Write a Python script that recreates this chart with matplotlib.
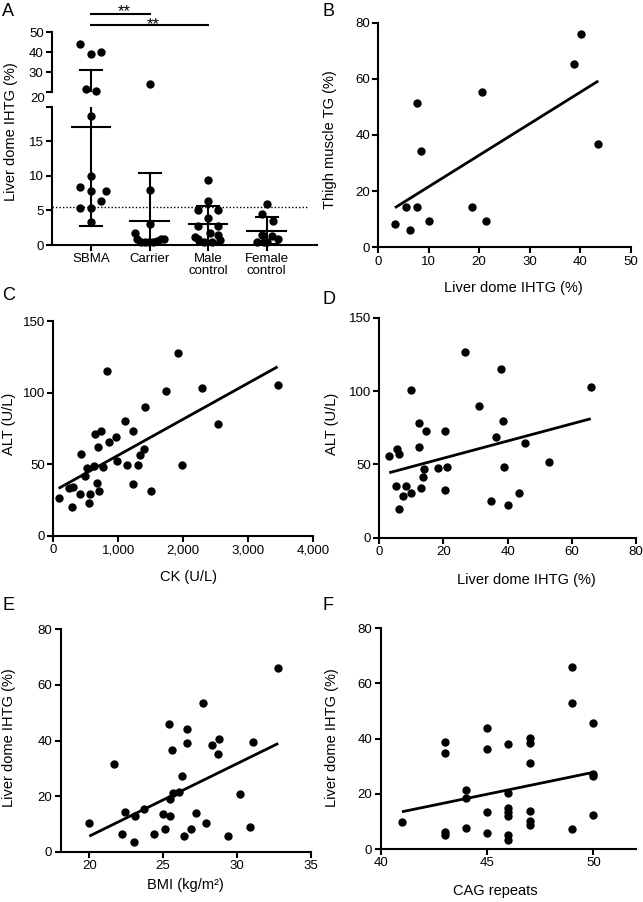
import numpy as np
import matplotlib
matplotlib.use('Agg')
import matplotlib.pyplot as plt
from matplotlib.transforms import blended_transform_factory

plt.rcParams['font.family'] = ['Liberation Sans', 'DejaVu Sans']

W, H = 643, 902

# ---------------- Panel A data ----------------
groups_A = ['SBMA', 'Carrier', 'Male\ncontrol', 'Female\ncontrol']
sbma = [44.0, 39.0, 40.3, 21.5, 20.7, 18.7, 10.0, 8.4, 7.8, 7.8, 6.3, 5.4, 5.3, 3.3]
carrier = [24.2, 7.9, 3.1, 1.7, 0.8, 0.5, 0.4, 0.4, 0.5, 0.6, 0.8, 0.9]
male_ctrl = [9.4, 6.3, 5.1, 5.1, 3.9, 2.7, 2.7, 1.8, 1.4, 0.8, 0.5, 0.5, 0.7, 1.2]
female_ctrl = [5.9, 4.5, 3.4, 1.4, 1.3, 0.9, 0.5, 0.4, 0.5]
threshold_A = 5.5
sig_pairs = [(0, 1, '**'), (0, 2, '**')]
# horizontal jitter of the dots (pixels)
sbma_jit = [-11, 0, 10, -5, 5, 0, 0, -11, 0, 15, 10, -11, 0, 0]
carrier_jit = [0, 0, 0, -15, -13, -9, -5, -1, 3, 7, 11, 14]
male_jit = [0, 0, -10, 10, 0, -10, 10, 2, 10, -10, -4, 4, 12, -13]
female_jit = [0, -5, 6, -5, 5, 11, -10, 0, -3]

# ---------------- Panel B data ----------------
b_ihtg = [3.3, 5.4, 6.3, 7.7, 7.7, 8.4, 10.0, 18.6, 20.5, 21.3, 38.7, 40.1, 43.6]
b_thigh = [8.3, 14.5, 6.2, 51.3, 14.2, 34.4, 9.5, 14.5, 55.4, 9.4, 65.3, 75.8, 36.8]
b_fit = (1.12, 10.4)   # slope, intercept of the drawn regression line

# ---------------- Panel C data ----------------
c_ck = [82, 246, 297, 282, 410, 431, 487, 523, 554, 564, 626, 641, 682, 677, 703,
        733, 769, 821, 862, 959, 974, 1103, 1128, 1221, 1221, 1308, 1333, 1400, 1410,
        1497, 1733, 1923, 1979, 2287, 2538, 3451]
c_alt = [26.1, 33.1, 33.8, 20.3, 29.3, 57.1, 41.9, 47.5, 23.1, 29.3, 48.7, 71.0, 62.2,
         36.6, 31.2, 73.4, 48.2, 115.3, 65.2, 69.2, 52.2, 80.1, 49.4, 73.4, 36.1, 49.4,
         56.4, 60.3, 90.1, 31.4, 101.3, 127.4, 49.4, 103.0, 78.3, 105.3]
c_fit = (0.02522, 31.0)

# ---------------- Panel D data ----------------
d_ihtg = [3.1, 5.4, 6.0, 5.2, 6.1, 7.5, 8.3, 9.9, 9.9, 12.4, 12.5, 13.1, 13.5, 13.9,
          14.7, 18.4, 20.5, 20.4, 21.2, 26.8, 31.2, 34.7, 36.3, 38.0, 38.5, 38.9, 40.1,
          43.6, 45.4, 52.9, 65.9]
d_alt = [55.7, 60.2, 56.8, 35.5, 19.8, 28.4, 35.5, 30.7, 100.7, 78.0, 61.6, 33.6, 41.6,
         46.8, 72.7, 47.7, 72.7, 32.5, 48.4, 126.8, 89.8, 25.2, 68.9, 114.8, 79.5, 48.4,
         22.3, 30.2, 64.8, 51.6, 103.0]
d_fit = (0.586, 42.5)

# ---------------- Panel E data ----------------
e_bmi = [20.0, 21.7, 22.2, 22.4, 23.0, 23.1, 23.7, 24.4, 25.0, 25.1, 25.4, 25.5, 25.5,
         25.6, 25.7, 26.1, 26.3, 26.4, 26.6, 26.6, 26.9, 27.2, 27.7, 27.9, 28.3, 28.7,
         28.8, 29.4, 30.2, 30.9, 31.1, 32.8]
e_ihtg = [10.4, 31.5, 6.4, 14.4, 3.6, 12.8, 15.2, 6.4, 13.5, 8.0, 45.8, 18.8, 12.9,
          36.6, 21.0, 21.6, 27.3, 5.6, 44.0, 39.0, 8.0, 14.0, 53.4, 10.4, 38.4, 35.0,
          40.4, 5.6, 20.7, 8.8, 39.6, 66.2]
e_fit = (2.605, -46.5)

# ---------------- Panel F data ----------------
f_cag = [41, 43, 43, 43, 43, 44, 44, 44, 45, 45, 45, 45, 46, 46, 46, 46, 46, 46, 46,
         47, 47, 47, 47, 47, 47, 49, 49, 49, 50, 50, 50, 50]
f_ihtg = [9.7, 38.9, 34.9, 6.3, 5.2, 21.4, 18.6, 7.5, 43.7, 36.2, 13.5, 5.7, 38.1, 20.4,
          14.9, 13.3, 11.8, 5.1, 3.3, 40.1, 38.5, 31.3, 13.9, 10.2, 8.6, 66.1, 53.1, 7.4,
          45.6, 27.2, 26.5, 12.3]
f_fit = (1.589, -51.65)

TICK_FS = 9.5
LABEL_FS = 10.5
LETTER_FS = 13
SPINE_LW = 1.5
MS = 5.0

fig = plt.figure(figsize=(W / 100, H / 100), dpi=100)


def rect(L, R, T, B):
    return [L / W, 1 - B / H, (R - L) / W, (B - T) / H]


def style(ax, bottom=True):
    for s in ['top', 'right']:
        ax.spines[s].set_visible(False)
    ax.spines['left'].set_linewidth(SPINE_LW)
    ax.spines['bottom'].set_linewidth(SPINE_LW)
    if not bottom:
        ax.spines['bottom'].set_visible(False)
    ax.tick_params(direction='out', length=4, width=SPINE_LW, labelsize=TICK_FS,
                   pad=2, colors='black')
    ax.patch.set_alpha(0)


def ftext(x, y, s, **kw):
    fig.text(x / W, 1 - y / H, s, **kw)


# ---------------- Panel A ----------------
LA, RA = 52, 317
axA = fig.add_axes(rect(LA, RA, 106.7, 245))
axAu = fig.add_axes(rect(LA, RA, 32.3, 92.3), sharex=axA)
xlimA = (-0.67, 3.86)
axA.set_xlim(*xlimA)
axA.set_ylim(0, 20)
axAu.set_ylim(20, 50)
style(axA)
style(axAu, bottom=False)
axAu.tick_params(axis='x', bottom=False, labelbottom=False)
axA.set_yticks([0, 5, 10, 15, 20])
axA.set_yticklabels(['0', '5', '10', '15', ''])
axAu.set_yticks([20, 30, 40, 50])
axAu.set_yticklabels(['', '30', '40', '50'])
axA.set_xticks(range(len(groups_A)))
axA.set_xticklabels(groups_A, fontsize=TICK_FS, linespacing=1.0)
px_per_cat = (RA - LA) / (xlimA[1] - xlimA[0])

groupsA_vals = [sbma, carrier, male_ctrl, female_ctrl]
groupsA_jit = [sbma_jit, carrier_jit, male_jit, female_jit]
for i, (vals, jit) in enumerate(zip(groupsA_vals, groupsA_jit)):
    vals = np.array(vals)
    xs = i + np.array(jit) / px_per_cat
    lo = vals < 20
    axA.plot(xs[lo], vals[lo], 'o', color='black', ms=MS, clip_on=False, zorder=3)
    axAu.plot(xs[~lo], vals[~lo], 'o', color='black', ms=MS, clip_on=False, zorder=3)
    m = vals.mean()
    sd = vals.std(ddof=1)
    for ax in (axA, axAu):
        ax.plot([i, i], [m - sd, m + sd], color='black', lw=1.5, zorder=4)
        ax.plot([i - 0.33, i + 0.33], [m, m], color='black', lw=1.5, zorder=4)
        ax.plot([i - 0.19, i + 0.19], [m + sd, m + sd], color='black', lw=1.5, zorder=4)
        ax.plot([i - 0.19, i + 0.19], [m - sd, m - sd], color='black', lw=1.5, zorder=4)

axA.plot([xlimA[0], 3.69], [threshold_A, threshold_A], color='black', lw=1.0,
         linestyle=(0, (1, 1.5)), zorder=2)
ftext(LA - 6.5, 99.3, '20', ha='right', va='center', fontsize=TICK_FS)

trA = blended_transform_factory(axAu.transData, axAu.transAxes)
sig_y = [1.30, 1.122]
sig_ty = [1.352, 1.132]
for (g1, g2, txt), yy, ty in zip(sig_pairs, sig_y, sig_ty):
    axAu.plot([g1, g2], [yy, yy], color='black', lw=1.5, transform=trA, clip_on=False)
    axAu.text((g1 + g2) / 2 + 0.06, ty, txt, transform=trA, ha='center', va='center',
              fontsize=12)

ftext(11, 132, 'Liver dome IHTG (%)', rotation=90, ha='center', va='center',
      fontsize=LABEL_FS)


# ---------------- scatter panels ----------------
def scatter_panel(r, x, y, fit, xlim, ylim, xticks, yticks, xticklabels=None):
    ax = fig.add_axes(r)
    ax.plot(x, y, 'o', color='black', ms=MS, clip_on=False, zorder=3)
    k, b = fit
    xx = np.array([min(x), max(x)])
    ax.plot(xx, k * xx + b, color='black', lw=2, zorder=4, solid_capstyle='butt')
    ax.set_xlim(*xlim)
    ax.set_ylim(*ylim)
    ax.set_xticks(xticks)
    ax.set_yticks(yticks)
    if xticklabels is not None:
        ax.set_xticklabels(xticklabels)
    style(ax)
    return ax


b_xticks = [0, 10, 20, 30, 40, 50]
b_yticks = [0, 20, 40, 60, 80]
scatter_panel(rect(378.3, 630.5, 22.7, 247.3), b_ihtg, b_thigh, b_fit, (0, 50), (0, 80),
              b_xticks, b_yticks)
ftext(330, 140, 'Thigh muscle TG (%)', rotation=90, ha='center', va='center',
      fontsize=LABEL_FS)
ftext(513, 288, 'Liver dome IHTG (%)', ha='center', va='center', fontsize=LABEL_FS)

c_xticks = [0, 1000, 2000, 3000, 4000]
c_xticklabels = ['0', '1,000', '2,000', '3,000', '4,000']
c_yticks = [0, 50, 100, 150]
scatter_panel(rect(53.3, 313.3, 321, 535.7), c_ck, c_alt, c_fit, (0, 4000), (0, 150),
              c_xticks, c_yticks, c_xticklabels)
ftext(9, 424, 'ALT (U/L)', rotation=90, ha='center', va='center', fontsize=LABEL_FS)
ftext(188, 577, 'CK (U/L)', ha='center', va='center', fontsize=LABEL_FS)

d_xticks = [0, 20, 40, 60, 80]
d_yticks = [0, 50, 100, 150]
scatter_panel(rect(379.3, 636, 317.7, 537.7), d_ihtg, d_alt, d_fit, (0, 80), (0, 150),
              d_xticks, d_yticks)
ftext(332, 424, 'ALT (U/L)', rotation=90, ha='center', va='center', fontsize=LABEL_FS)
ftext(526, 580, 'Liver dome IHTG (%)', ha='center', va='center', fontsize=LABEL_FS)

e_xticks = [20, 25, 30, 35]
e_yticks = [0, 20, 40, 60, 80]
scatter_panel(rect(60.7, 310.7, 629.3, 851.7), e_bmi, e_ihtg, e_fit, (18.06, 35), (0, 80),
              e_xticks, e_yticks)
ftext(9, 738, 'Liver dome IHTG (%)', rotation=90, ha='center', va='center',
      fontsize=LABEL_FS)
ftext(185, 885, 'BMI (kg/m²)', ha='center', va='center', fontsize=LABEL_FS)

f_xticks = [40, 45, 50]
f_yticks = [0, 20, 40, 60, 80]
scatter_panel(rect(380.7, 636, 628.3, 849), f_cag, f_ihtg, f_fit, (40, 52), (0, 80),
              f_xticks, f_yticks)
ftext(332, 738, 'Liver dome IHTG (%)', rotation=90, ha='center', va='center',
      fontsize=LABEL_FS)
ftext(495, 891, 'CAG repeats', ha='center', va='center', fontsize=LABEL_FS)

# panel letters
for letter, (lx, ly) in {'A': (2, 11), 'B': (322, 11), 'C': (2, 295),
                         'D': (322, 299), 'E': (2, 605), 'F': (322, 606)}.items():
    ftext(lx, ly, letter, ha='left', va='center', fontsize=LETTER_FS)

fig.savefig('out.png', dpi=100)
